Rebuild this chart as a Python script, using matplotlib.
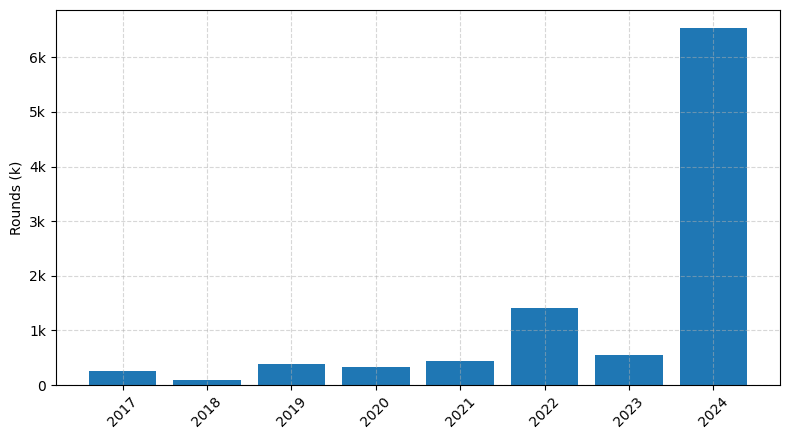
import matplotlib
matplotlib.use("Agg")
import matplotlib.pyplot as plt
from matplotlib.ticker import FuncFormatter

# rounds per year (raw count, shown in thousands)
years = ["2017", "2018", "2019", "2020", "2021", "2022", "2023", "2024"]
rounds = [256, 92, 385, 330, 440, 1410, 550, 6540]


def k_fmt(v, pos):
    if v == 0:
        return "0"
    return f"{v / 1000:g}k"


fig, ax = plt.subplots(figsize=(7.9, 4.4), dpi=100)
ax.bar(years, rounds, color="#1f77b4")
ax.yaxis.set_major_formatter(FuncFormatter(k_fmt))
ax.set_ylabel("Rounds (k)")
ax.grid(True, linestyle="--", alpha=0.5)
plt.xticks(rotation=45)
fig.subplots_adjust(left=0.0709, right=0.9873, top=0.9773, bottom=0.125)
plt.savefig("out.png")
